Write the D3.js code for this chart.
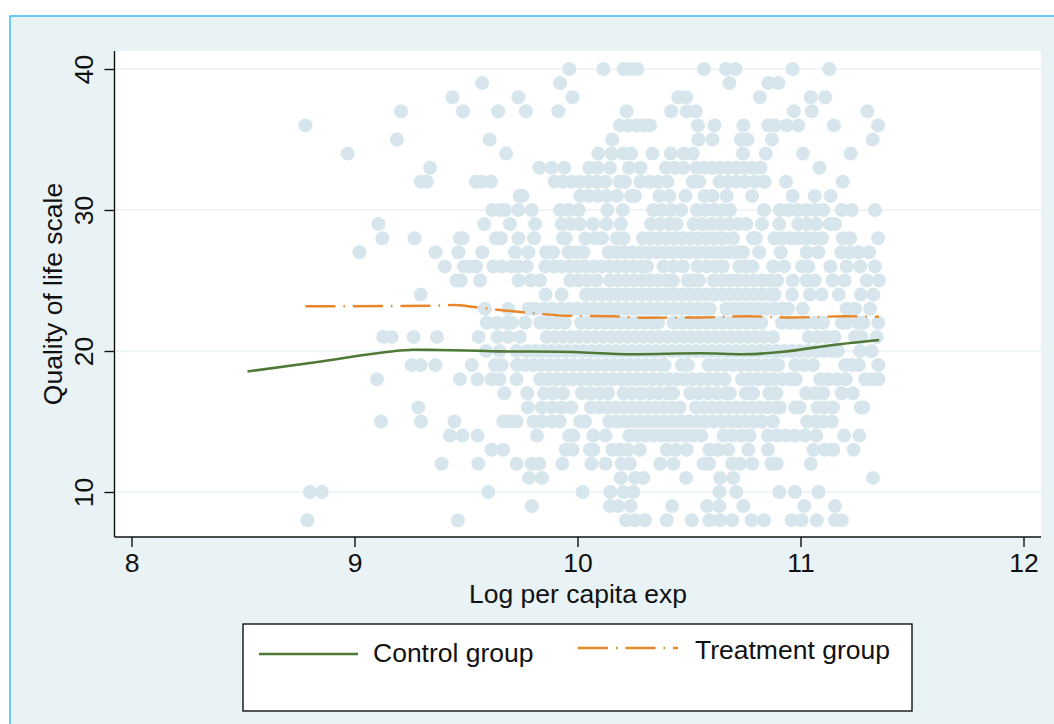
<!DOCTYPE html>
<html>
<head>
<meta charset="utf-8">
<script src="https://cdn.jsdelivr.net/npm/d3@7"></script>
<style>
  html, body { margin: 0; padding: 0; background: white; }
  text { font-family: "Liberation Sans", Arial, sans-serif; fill: #111; }
</style>
</head>
<body>
<div class="chart"></div>
<script>
// quality of life score for each row of dots
const scores = [40, 39, 38, 37, 36, 35, 34, 33, 32, 31, 30, 29, 28, 27, 26, 25, 24,
    23, 22, 21, 20, 19, 18, 17, 16, 15, 14, 13, 12, 11, 10, 9, 8];

// log per capita exp of the households on each row, same order as scores
const logExp = [
    [9.963, 10.116, 10.206, 10.238, 10.268, 10.567, 10.666, 10.708, 10.965, 11.129],
    [9.572, 9.922, 10.681, 10.856, 10.901],
    [9.439, 9.735, 9.978, 10.452, 10.487, 10.818, 11.046, 11.111],
    [9.209, 9.487, 9.644, 9.769, 9.914, 10.22, 10.42, 10.49, 10.53, 10.97, 11.05, 11.30],
    [8.78, 10.19, 10.228, 10.265, 10.295, 10.325, 10.54, 10.614, 10.744, 10.856, 10.886, 10.938, 10.99, 11.15, 11.348],
    [9.19, 9.606, 10.156, 10.542, 10.605, 10.732, 10.762, 10.872, 11.324],
    [8.97, 9.68, 10.093, 10.153, 10.206, 10.24, 10.336, 10.418, 10.475, 10.517, 10.742, 10.844, 11.011, 11.225],
    [9.339, 9.829, 9.884, 9.941, 10.053, 10.09, 10.146, 10.231, 10.283, 10.397, 10.437, 10.475, 10.534, 10.57, 10.606, 10.642, 10.678, 10.714, 10.75, 10.786, 10.821, 11.085],
    [9.297, 9.324, 9.545, 9.57, 9.612, 9.897, 9.935, 9.973, 10.01, 10.048, 10.086, 10.125, 10.188, 10.213, 10.282, 10.322, 10.362, 10.403, 10.517, 10.546, 10.637, 10.675, 10.713, 10.751, 10.796, 10.839, 10.935, 11.189],
    [9.74, 9.753, 10.012, 10.05, 10.09, 10.13, 10.177, 10.24, 10.258, 10.367, 10.412, 10.484, 10.57, 10.606, 10.669, 10.783, 10.965, 11.064, 11.135],
    [9.618, 9.653, 9.675, 9.735, 9.795, 9.922, 9.96, 10.005, 10.134, 10.203, 10.34, 10.38, 10.42, 10.465, 10.536, 10.575, 10.615, 10.65, 10.684, 10.836, 10.907, 10.945, 10.985, 11.025, 11.065, 11.102, 11.185, 11.229, 11.334],
    [9.107, 9.582, 9.697, 9.81, 9.93, 9.97, 10.01, 10.07, 10.13, 10.194, 10.33, 10.37, 10.41, 10.445, 10.52, 10.56, 10.6, 10.64, 10.68, 10.72, 10.757, 10.827, 10.905, 10.99, 11.03, 11.07, 11.132, 11.155],
    [9.125, 9.269, 9.473, 9.485, 9.635, 9.656, 9.735, 9.805, 9.935, 9.947, 10.035, 10.079, 10.11, 10.177, 10.207, 10.294, 10.33, 10.366, 10.402, 10.438, 10.474, 10.51, 10.546, 10.582, 10.618, 10.654, 10.697, 10.787, 10.799, 10.883, 10.92, 10.955, 10.99, 11.025, 11.06, 11.096, 11.19, 11.223, 11.348],
    [9.022, 9.363, 9.466, 9.573, 9.72, 9.78, 9.86, 9.89, 9.96, 9.993, 10.026, 10.14, 10.176, 10.212, 10.248, 10.284, 10.32, 10.356, 10.392, 10.428, 10.464, 10.5, 10.536, 10.572, 10.608, 10.644, 10.68, 10.712, 10.742, 10.815, 10.911, 11.028, 11.08, 11.183, 11.22, 11.26, 11.307],
    [9.405, 9.491, 9.518, 9.545, 9.623, 9.66, 9.705, 9.735, 9.772, 9.856, 9.892, 9.928, 9.964, 10.0, 10.036, 10.072, 10.108, 10.144, 10.18, 10.216, 10.252, 10.288, 10.312, 10.386, 10.43, 10.473, 10.539, 10.58, 10.62, 10.652, 10.726, 10.755, 10.784, 10.877, 10.926, 11.007, 11.035, 11.134, 11.207, 11.267, 11.334],
    [9.458, 9.476, 9.563, 9.735, 9.79, 9.832, 9.968, 10.005, 10.045, 10.085, 10.147, 10.183, 10.219, 10.255, 10.291, 10.327, 10.363, 10.399, 10.428, 10.494, 10.52, 10.545, 10.61, 10.646, 10.682, 10.718, 10.754, 10.79, 10.826, 10.862, 10.895, 10.965, 11.027, 11.063, 11.145, 11.197, 11.297, 11.352],
    [9.297, 9.857, 9.929, 10.038, 10.074, 10.11, 10.146, 10.182, 10.218, 10.254, 10.29, 10.326, 10.362, 10.398, 10.434, 10.47, 10.506, 10.542, 10.578, 10.614, 10.65, 10.686, 10.722, 10.758, 10.794, 10.83, 10.866, 10.884, 10.962, 11.042, 11.095, 11.172, 11.27, 11.327],
    [9.585, 9.69, 9.78, 9.81, 9.85, 9.885, 9.925, 9.965, 10.0, 10.036, 10.072, 10.108, 10.144, 10.18, 10.216, 10.252, 10.288, 10.324, 10.36, 10.396, 10.432, 10.468, 10.504, 10.54, 10.572, 10.593, 10.667, 10.703, 10.739, 10.775, 10.811, 10.847, 10.883, 10.919, 10.944, 11.01, 11.207, 11.245, 11.312],
    [9.593, 9.638, 9.682, 9.705, 9.765, 9.833, 9.87, 9.907, 9.943, 10.016, 10.052, 10.088, 10.124, 10.16, 10.196, 10.232, 10.268, 10.304, 10.34, 10.361, 10.431, 10.467, 10.503, 10.539, 10.575, 10.611, 10.647, 10.683, 10.719, 10.755, 10.791, 10.824, 10.917, 10.953, 10.989, 11.025, 11.065, 11.101, 11.185, 11.207, 11.26, 11.282, 11.349],
    [9.129, 9.167, 9.265, 9.37, 9.557, 9.642, 9.69, 9.742, 9.863, 9.899, 9.935, 9.971, 10.007, 10.043, 10.079, 10.115, 10.151, 10.187, 10.223, 10.259, 10.295, 10.331, 10.367, 10.403, 10.439, 10.475, 10.511, 10.547, 10.583, 10.619, 10.655, 10.691, 10.727, 10.763, 10.799, 10.835, 10.877, 11.037, 11.075, 11.115, 11.153, 11.244, 11.274, 11.342],
    [9.59, 9.65, 9.727, 9.774, 9.81, 9.846, 9.882, 9.918, 9.954, 9.99, 10.026, 10.062, 10.098, 10.134, 10.17, 10.206, 10.242, 10.278, 10.314, 10.35, 10.386, 10.422, 10.458, 10.494, 10.53, 10.566, 10.602, 10.638, 10.674, 10.71, 10.746, 10.782, 10.818, 10.854, 10.89, 10.926, 10.962, 10.998, 11.034, 11.07, 11.106, 11.142, 11.168, 11.267, 11.319],
    [9.256, 9.297, 9.363, 9.526, 9.63, 9.66, 9.729, 9.765, 9.801, 9.837, 9.873, 9.909, 9.945, 9.981, 10.017, 10.053, 10.089, 10.125, 10.161, 10.197, 10.233, 10.269, 10.305, 10.341, 10.377, 10.391, 10.468, 10.495, 10.588, 10.624, 10.66, 10.696, 10.732, 10.768, 10.804, 10.84, 10.876, 10.899, 10.977, 11.017, 11.056, 11.2, 11.232, 11.262, 11.349],
    [9.101, 9.473, 9.551, 9.615, 9.65, 9.727, 9.833, 9.869, 9.905, 9.941, 9.977, 10.013, 10.049, 10.085, 10.121, 10.157, 10.193, 10.229, 10.265, 10.301, 10.337, 10.373, 10.409, 10.445, 10.481, 10.517, 10.553, 10.589, 10.625, 10.66, 10.738, 10.774, 10.81, 10.846, 10.882, 10.918, 10.954, 10.978, 11.089, 11.125, 11.165, 11.203, 11.29, 11.32, 11.349],
    [9.672, 9.775, 9.851, 9.892, 9.935, 10.02, 10.06, 10.1, 10.137, 10.207, 10.245, 10.285, 10.325, 10.365, 10.405, 10.428, 10.506, 10.545, 10.585, 10.625, 10.665, 10.683, 10.755, 10.787, 10.86, 10.892, 11.026, 11.065, 11.101, 11.185, 11.234],
    [9.286, 9.777, 9.84, 9.885, 9.93, 9.972, 10.06, 10.096, 10.132, 10.168, 10.204, 10.24, 10.276, 10.312, 10.348, 10.384, 10.42, 10.458, 10.531, 10.567, 10.603, 10.639, 10.675, 10.711, 10.747, 10.783, 10.819, 10.855, 10.891, 10.907, 10.977, 10.996, 11.077, 11.11, 11.146, 11.27, 11.282],
    [9.119, 9.298, 9.448, 9.667, 9.697, 9.727, 9.803, 9.84, 9.885, 9.92, 10.012, 10.034, 10.143, 10.179, 10.215, 10.251, 10.287, 10.323, 10.359, 10.395, 10.431, 10.467, 10.503, 10.539, 10.575, 10.611, 10.647, 10.683, 10.719, 10.755, 10.791, 10.827, 10.877, 11.03, 11.07, 11.1, 11.14],
    [9.428, 9.484, 9.552, 9.818, 9.962, 9.981, 10.07, 10.125, 10.232, 10.268, 10.304, 10.34, 10.376, 10.412, 10.448, 10.484, 10.52, 10.555, 10.655, 10.695, 10.735, 10.772, 10.854, 10.895, 10.935, 10.975, 11.02, 11.071, 11.195, 11.264],
    [9.615, 9.667, 9.947, 9.978, 10.056, 10.071, 10.156, 10.19, 10.225, 10.28, 10.4, 10.44, 10.49, 10.591, 10.63, 10.676, 10.766, 10.854, 11.058, 11.11, 11.147, 11.238],
    [9.391, 9.555, 9.727, 9.795, 9.829, 9.932, 10.062, 10.126, 10.198, 10.235, 10.371, 10.43, 10.565, 10.59, 10.694, 10.729, 10.784, 10.87, 10.893, 11.046],
    [9.783, 9.841, 10.194, 10.258, 10.295, 10.487, 10.639, 10.699, 11.325],
    [8.8, 8.853, 9.6, 10.023, 10.147, 10.206, 10.25, 10.636, 10.712, 10.905, 10.975, 11.081],
    [9.795, 10.146, 10.183, 10.238, 10.424, 10.582, 10.636, 10.744, 11.017, 11.155],
    [8.789, 9.464, 10.218, 10.258, 10.303, 10.4, 10.512, 10.591, 10.639, 10.694, 10.781, 10.836, 10.96, 11.005, 11.073, 11.155, 11.185]
];

// lowess curves
const controlX = [8.52, 8.85, 9.144, 9.264, 9.37, 9.593, 9.65, 9.92, 10.25, 10.55, 10.744, 10.923, 11.147, 11.353];
const controlY = [18.55, 19.25, 19.93, 20.09, 20.07, 20.0, 19.97, 19.95, 19.77, 19.84, 19.77, 19.95, 20.43, 20.78];
const treatX = [8.78, 9.339, 9.443, 9.548, 9.65, 9.742, 9.95, 10.16, 10.295, 10.55, 10.76, 10.968, 11.19, 11.352];
const treatY = [23.17, 23.21, 23.26, 23.1, 22.91, 22.77, 22.5, 22.46, 22.36, 22.38, 22.46, 22.38, 22.46, 22.43];

const xTicks = [8, 9, 10, 11, 12];
const yTicks = [10, 20, 30, 40];

const legendLabels = ["Control group", "Treatment group"];
const xTitle = "Log per capita exp";
const yTitle = "Quality of life scale";

const dotColor = "#d7e6ed", panelColor = "#e9f2f4";
const green = "#4f7a36", orange = "#e8872a";
const dash = "30 8 1.5 8";

const svg = d3.select(".chart").append("svg")
    .attr("width", 1054)
    .attr("height", 724)
    .style("display", "block");

// panel runs off the right and bottom of the picture, only left and top show a border
svg.append("rect")
    .attr("x", 10).attr("y", 16)
    .attr("width", 1044).attr("height", 708)
    .attr("fill", panelColor);

svg.append("path")
    .attr("d", "M10,724V16H1054")
    .attr("fill", "none")
    .attr("stroke", "#3dbdf0")
    .attr("stroke-width", 1.5);

const plot = { left: 114.5, right: 1041, top: 51, bottom: 537 };

const xScale = d3.scaleLinear().domain([9, 11]).range([354.5, 800.5]);
const yScale = d3.scaleLinear().domain([10, 40]).range([492, 69]);

svg.append("rect")
    .attr("x", plot.left).attr("y", plot.top)
    .attr("width", plot.right - plot.left)
    .attr("height", plot.bottom - plot.top)
    .attr("fill", "white");

// gridlines
svg.append("g")
    .selectAll("line")
    .data(yTicks)
    .enter()
    .append("line")
    .attr("x1", plot.left).attr("x2", plot.right)
    .attr("y1", d => yScale(d)).attr("y2", d => yScale(d))
    .attr("stroke", panelColor)
    .attr("stroke-width", 1.6);

// dots, one group per score row
svg.append("g")
    .selectAll("g")
    .data(scores)
    .enter()
    .append("g")
    .selectAll("circle")
    .data((d, i) => logExp[i].map(x => ({ x: x, y: d })))
    .enter()
    .append("circle")
    .attr("cx", d => xScale(d.x))
    .attr("cy", d => yScale(d.y))
    .attr("r", 7)
    .attr("fill", dotColor);

const line = d3.line()
    .x(d => xScale(d[0]))
    .y(d => yScale(d[1]))
    .curve(d3.curveMonotoneX);

svg.append("path")
    .datum(d3.zip(controlX, controlY))
    .attr("fill", "none")
    .attr("stroke", green)
    .attr("stroke-width", 2.6)
    .attr("d", line);

svg.append("path")
    .datum(d3.zip(treatX, treatY))
    .attr("fill", "none")
    .attr("stroke", orange)
    .attr("stroke-width", 2.4)
    .attr("stroke-dasharray", dash)
    .attr("d", line);

// axes
const xAxis = d3.axisBottom(xScale).tickValues(xTicks).tickSize(10).tickPadding(6).tickFormat(d3.format("d"));
const yAxis = d3.axisLeft(yScale).tickValues(yTicks).tickSize(10).tickPadding(7).tickFormat(d3.format("d"));

const gx = svg.append("g")
    .attr("transform", `translate(0, ${plot.bottom})`)
    .call(xAxis);
gx.select(".domain").attr("d", `M${plot.left},0H${plot.right}`);

const gy = svg.append("g")
    .attr("transform", `translate(${plot.left}, 0)`)
    .call(yAxis);
gy.select(".domain").attr("d", `M0,${plot.top}V${plot.bottom}`);

svg.selectAll(".domain, .tick line").attr("stroke", "#111").attr("stroke-width", 1.4);
svg.selectAll(".tick text").attr("font-size", 26.5).attr("fill", "#111");
gy.selectAll(".tick text")
    .attr("text-anchor", "middle")
    .attr("dy", 0)
    .attr("x", 0)
    .attr("y", 0)
    .attr("transform", "translate(-21.5, 0) rotate(-90)");

svg.append("text")
    .attr("x", 578).attr("y", 603)
    .attr("text-anchor", "middle")
    .attr("font-size", 26.5)
    .text(xTitle);

svg.append("text")
    .attr("transform", "translate(62, 294) rotate(-90)")
    .attr("text-anchor", "middle")
    .attr("font-size", 26.5)
    .text(yTitle);

// legend
svg.append("rect")
    .attr("x", 243).attr("y", 624)
    .attr("width", 669).attr("height", 87)
    .attr("fill", "white")
    .attr("stroke", "#111")
    .attr("stroke-width", 1.4);

svg.append("line")
    .attr("x1", 259).attr("x2", 358)
    .attr("y1", 654).attr("y2", 654)
    .attr("stroke", green)
    .attr("stroke-width", 2.6);

svg.append("line")
    .attr("x1", 578).attr("x2", 678)
    .attr("y1", 648).attr("y2", 648)
    .attr("stroke", orange)
    .attr("stroke-width", 2.4)
    .attr("stroke-dasharray", dash);

svg.append("text").attr("x", 373).attr("y", 662).attr("font-size", 26.5).text(legendLabels[0]);
svg.append("text").attr("x", 695).attr("y", 659).attr("font-size", 26.5).text(legendLabels[1]);
</script>
</body>
</html>
